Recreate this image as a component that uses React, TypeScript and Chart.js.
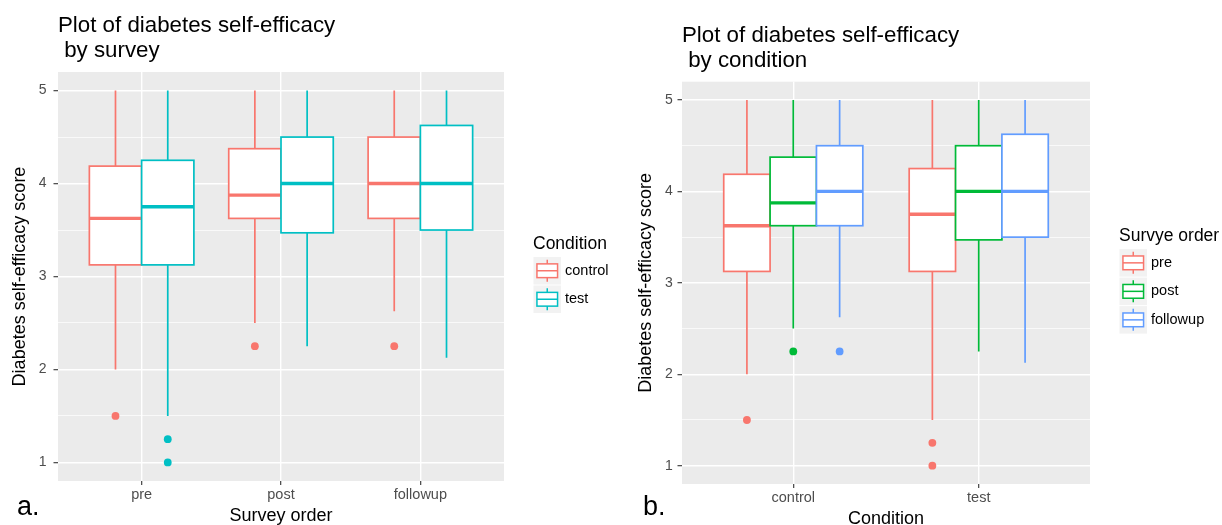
import React, { useEffect, useRef } from 'react';
import { Chart, registerables } from 'chart.js';

Chart.register(...registerables);

const FONT = '"Liberation Sans", Arial, Helvetica, sans-serif';

// ---------- data ----------
const surveyOrders = ['pre', 'post', 'followup'];
const conditions = ['control', 'test'];

// control condition, indexed by survey order
const controlLower = [2.0, 2.5, 2.625];
const controlQ1 = [3.125, 3.625, 3.625];
const controlMedian = [3.625, 3.875, 4.0];
const controlQ3 = [4.1875, 4.375, 4.5];
const controlUpper = [5, 5, 5];
const controlOutliers = [[1.5], [2.25], [2.25]];

// test condition, indexed by survey order
const testLower = [1.5, 2.25, 2.125];
const testQ1 = [3.125, 3.47, 3.5];
const testMedian = [3.75, 4.0, 4.0];
const testQ3 = [4.25, 4.5, 4.625];
const testUpper = [5, 5, 5];
const testOutliers = [[1.25, 1.0], [], []];

const yMajorTicks = [1, 2, 3, 4, 5];
const yMinorTicks = [1.5, 2.5, 3.5, 4.5];

const conditionColors = ['#F8766D', '#00BFC4'];
const surveyColors = ['#F8766D', '#00BA38', '#619CFF'];

const statsTable = [
  { lower: controlLower, q1: controlQ1, median: controlMedian, q3: controlQ3, upper: controlUpper, outliers: controlOutliers },
  { lower: testLower, q1: testQ1, median: testMedian, q3: testQ3, upper: testUpper, outliers: testOutliers },
];

function stat(condIdx: number, surveyIdx: number) {
  const t = statsTable[condIdx];
  return {
    lower: t.lower[surveyIdx],
    q1: t.q1[surveyIdx],
    median: t.median[surveyIdx],
    q3: t.q3[surveyIdx],
    upper: t.upper[surveyIdx],
    outliers: t.outliers[surveyIdx],
  };
}

type PanelSpec = {
  id: string;
  letter: string;
  title: string[];
  xTitle: string;
  legendTitle: string;
  categories: string[];
  groups: string[];
  colors: string[];
  stat: (i: number, j: number) => any;
  canvasW: number;
  plotLeft: number;
  plotRight: number;
  plotTop: number;
  plotBottom: number;
  yTitlePad: number;
  yTickPad: number;
  xTitlePadBottom: number;
  letterX: number;
};

const panelA: PanelSpec = {
  id: 'a',
  letter: 'a.',
  title: ['Plot of diabetes self-efficacy', ' by survey'],
  xTitle: 'Survey order',
  legendTitle: 'Condition',
  categories: surveyOrders,
  groups: conditions,
  colors: conditionColors,
  stat: (i, j) => stat(j, i),
  canvasW: 615,
  plotLeft: 58,
  plotRight: 504,
  plotTop: 72,
  plotBottom: 481,
  yTitlePad: 9.2,
  yTickPad: 7,
  xTitlePadBottom: 0,
  letterX: 17,
};

const panelB: PanelSpec = {
  id: 'b',
  letter: 'b.',
  title: ['Plot of diabetes self-efficacy', ' by condition'],
  xTitle: 'Condition',
  legendTitle: 'Survye order',
  categories: conditions,
  groups: surveyOrders,
  colors: surveyColors,
  stat: (i, j) => stat(i, j),
  canvasW: 607,
  plotLeft: 67,
  plotRight: 475,
  plotTop: 81.7,
  plotBottom: 484,
  yTitlePad: 20.7,
  yTickPad: 4.7,
  xTitlePadBottom: -3,
  letterX: 28,
};

function makeChart(canvas: HTMLCanvasElement, p: PanelSpec) {
  const H = 525;
  const nG = p.groups.length;
  const boxW = 0.75 / nG;
  const boxes: any[] = [];
  p.categories.forEach((_c, i) => {
    p.groups.forEach((_g, j) => {
      const s = p.stat(i, j);
      boxes.push({ x: i + 1 - 0.375 + (j + 0.5) * boxW, w: boxW, g: j, color: p.colors[j], ...s });
    });
  });

  const datasets = p.groups.map((g, j) => ({
    label: g,
    data: boxes
      .filter((b) => b.g === j)
      .flatMap((b) => b.outliers.map((y: number) => ({ x: b.x, y }))),
    pointRadius: 3.9,
    pointBackgroundColor: p.colors[j],
    pointBorderWidth: 0,
    backgroundColor: p.colors[j],
    borderColor: p.colors[j],
  }));

  const isMajor = (v: number) => Math.abs(v - Math.round(v)) < 1e-9;
  const yTicks = [...yMajorTicks, ...yMinorTicks].sort((a, b) => a - b);

  const plugin = {
    id: 'gg' + p.id,
    beforeDraw(chart: any) {
      const { ctx, chartArea: a } = chart;
      ctx.save();
      ctx.fillStyle = '#EBEBEB';
      ctx.fillRect(a.left, a.top, a.right - a.left, a.bottom - a.top);
      ctx.restore();
    },
    beforeDatasetsDraw(chart: any) {
      const { ctx, chartArea: a } = chart;
      const xs = chart.scales.x;
      const ys = chart.scales.y;
      ctx.save();
      ctx.beginPath();
      ctx.rect(a.left, a.top, a.right - a.left, a.bottom - a.top);
      ctx.clip();
      boxes.forEach((b) => {
        const xl = xs.getPixelForValue(b.x - b.w / 2);
        const xr = xs.getPixelForValue(b.x + b.w / 2);
        const xm = xs.getPixelForValue(b.x);
        const yLo = ys.getPixelForValue(b.lower);
        const yQ1 = ys.getPixelForValue(b.q1);
        const yMed = ys.getPixelForValue(b.median);
        const yQ3 = ys.getPixelForValue(b.q3);
        const yHi = ys.getPixelForValue(b.upper);
        ctx.strokeStyle = b.color;
        ctx.lineWidth = 1.7;
        ctx.lineCap = 'butt';
        ctx.beginPath();
        ctx.moveTo(xm, yHi);
        ctx.lineTo(xm, yQ3);
        ctx.moveTo(xm, yQ1);
        ctx.lineTo(xm, yLo);
        ctx.stroke();
        ctx.fillStyle = '#FFFFFF';
        ctx.fillRect(xl, yQ3, xr - xl, yQ1 - yQ3);
        ctx.strokeRect(xl, yQ3, xr - xl, yQ1 - yQ3);
        ctx.lineWidth = 3.4;
        ctx.beginPath();
        ctx.moveTo(xl, yMed);
        ctx.lineTo(xr, yMed);
        ctx.stroke();
      });
      ctx.restore();
    },
    afterDraw(chart: any) {
      const { ctx, chartArea: a } = chart;
      ctx.save();
      ctx.textAlign = 'left';
      ctx.textBaseline = 'middle';
      // title
      ctx.fillStyle = '#000';
      ctx.font = `22.3px ${FONT}`;
      ctx.fillText(p.title[0], a.left, a.top - 46);
      ctx.fillText(p.title[1], a.left, a.top - 21);
      // panel letter
      ctx.font = `27px ${FONT}`;
      ctx.fillText(p.letter, p.letterX, 508);
      // legend
      const K = 28.5;
      const midY = (a.top + a.bottom) / 2;
      const keyTop = midY - (nG * K) / 2 + 9;
      const lx = a.right + 29;
      ctx.font = `17.5px ${FONT}`;
      ctx.fillText(p.legendTitle, lx, keyTop - 12.5);
      p.groups.forEach((g, j) => {
        const ky = keyTop + j * K;
        const kx = lx + 0.5;
        ctx.fillStyle = '#F2F2F2';
        ctx.fillRect(kx, ky, K - 1, K - 1);
        const k = K - 1;
        ctx.strokeStyle = p.colors[j];
        ctx.lineWidth = 1.5;
        ctx.beginPath();
        ctx.moveTo(kx + k / 2, ky + 0.1 * k);
        ctx.lineTo(kx + k / 2, ky + 0.9 * k);
        ctx.stroke();
        ctx.fillStyle = '#FFFFFF';
        ctx.fillRect(kx + 0.125 * k, ky + 0.25 * k, 0.75 * k, 0.5 * k);
        ctx.strokeRect(kx + 0.125 * k, ky + 0.25 * k, 0.75 * k, 0.5 * k);
        ctx.beginPath();
        ctx.moveTo(kx + 0.125 * k, ky + 0.5 * k);
        ctx.lineTo(kx + 0.875 * k, ky + 0.5 * k);
        ctx.stroke();
        ctx.fillStyle = '#000';
        ctx.font = `14.5px ${FONT}`;
        ctx.fillText(g, kx + k + 4, ky + k / 2);
      });
      ctx.restore();
    },
  };

  return new Chart(canvas, {
    type: 'scatter',
    data: { datasets },
    plugins: [plugin],
    options: {
      animation: false,
      responsive: false,
      devicePixelRatio: 1,
      events: [],
      layout: {
        padding: { left: 0, top: p.plotTop, right: p.canvasW - p.plotRight, bottom: 0 },
      },
      plugins: {
        legend: { display: false },
        title: { display: false },
        tooltip: { enabled: false },
      },
      scales: {
        x: {
          type: 'linear',
          min: 0.4,
          max: p.categories.length + 0.6,
          afterBuildTicks: (s: any) => {
            s.ticks = p.categories.map((_c, i) => ({ value: i + 1 }));
          },
          afterFit: (s: any) => {
            s.height = H - p.plotBottom;
          },
          ticks: {
            autoSkip: false,
            maxRotation: 0,
            padding: 1.3,
            color: '#4D4D4D',
            font: { family: FONT, size: 14.5 },
            callback: (v: any) => p.categories[Math.round(v) - 1] ?? '',
          },
          grid: {
            color: '#FFFFFF',
            lineWidth: 1.4,
            tickLength: 4,
            tickColor: '#333333',
            tickWidth: 1.1,
          },
          border: { display: false },
          title: {
            display: true,
            text: p.xTitle,
            color: '#000',
            font: { family: FONT, size: 18, lineHeight: 1 },
            padding: { top: 0, bottom: p.xTitlePadBottom },
          },
        },
        y: {
          type: 'linear',
          min: 0.8,
          max: 5.2,
          afterBuildTicks: (s: any) => {
            s.ticks = yTicks.map((v) => ({ value: v }));
          },
          afterFit: (s: any) => {
            s.width = p.plotLeft;
          },
          ticks: {
            autoSkip: false,
            padding: p.yTickPad,
            color: '#4D4D4D',
            font: { family: FONT, size: 14 },
            callback: (v: any) => (isMajor(v) ? String(Math.round(v)) : ''),
          },
          grid: {
            color: '#FFFFFF',
            lineWidth: (c: any) => (c.tick && isMajor(c.tick.value) ? 1.4 : 0.7),
            tickLength: 4.5,
            tickColor: (c: any) => (c.tick && isMajor(c.tick.value) ? '#333333' : 'rgba(0,0,0,0)'),
            tickWidth: 1.1,
          },
          border: { display: false },
          title: {
            display: true,
            text: 'Diabetes self-efficacy score',
            color: '#000',
            font: { family: FONT, size: 18, lineHeight: 1.2 },
            padding: { top: p.yTitlePad, bottom: 0 },
          },
        },
      },
    } as any,
  });
}

function Panel({ spec, left }: { spec: PanelSpec; left: number }) {
  const ref = useRef<HTMLCanvasElement | null>(null);
  useEffect(() => {
    if (!ref.current) return;
    const chart = makeChart(ref.current, spec);
    return () => chart.destroy();
  }, [spec]);
  return (
    <canvas
      ref={ref}
      width={spec.canvasW}
      height={525}
      style={{ position: 'absolute', left, top: 0, width: spec.canvasW, height: 525 }}
    />
  );
}

export default function App() {
  return (
    <div style={{ position: 'fixed', left: 0, top: 0, width: 1222, height: 525, background: '#FFFFFF', overflow: 'hidden' }}>
      <Panel spec={panelA} left={0} />
      <Panel spec={panelB} left={615} />
    </div>
  );
}
